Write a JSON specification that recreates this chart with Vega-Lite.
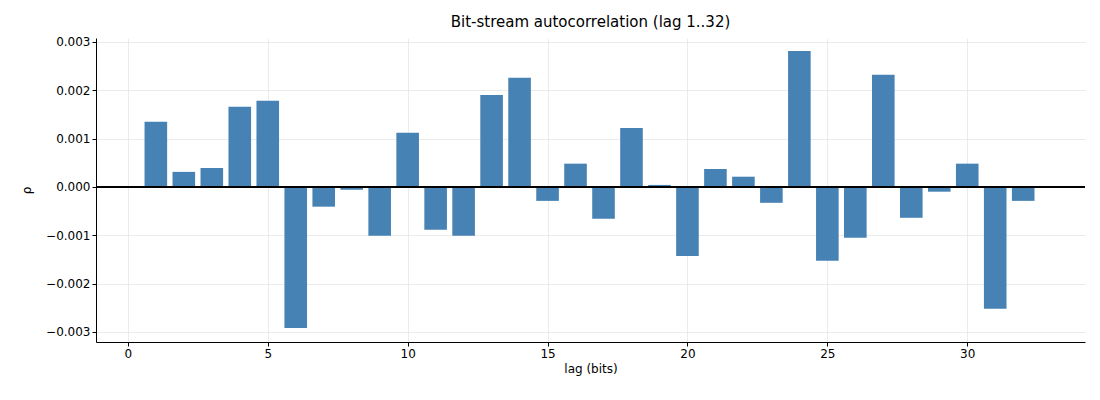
{
  "$schema": "https://vega.github.io/schema/vega-lite/v6.json",
  "autosize": "none",
  "width": 989,
  "height": 304,
  "padding": {"left": 96, "top": 38, "right": 15, "bottom": 58},
  "title": {"text": "Bit-stream autocorrelation (lag 1..32)", "font": "DejaVu Sans", "fontSize": 15, "fontWeight": "normal", "offset": 6},
  "data": {
    "values": [
      {"lag": 1, "rho": 0.001345}, {"lag": 2, "rho": 0.00031}, {"lag": 3, "rho": 0.00039},
      {"lag": 4, "rho": 0.001655}, {"lag": 5, "rho": 0.00178}, {"lag": 6, "rho": -0.00292},
      {"lag": 7, "rho": -0.00041}, {"lag": 8, "rho": -0.00006}, {"lag": 9, "rho": -0.00101},
      {"lag": 10, "rho": 0.00112}, {"lag": 11, "rho": -0.00089}, {"lag": 12, "rho": -0.00101},
      {"lag": 13, "rho": 0.0019}, {"lag": 14, "rho": 0.002255}, {"lag": 15, "rho": -0.00029},
      {"lag": 16, "rho": 0.00048}, {"lag": 17, "rho": -0.00066}, {"lag": 18, "rho": 0.00122},
      {"lag": 19, "rho": 0.00004}, {"lag": 20, "rho": -0.00143}, {"lag": 21, "rho": 0.00037},
      {"lag": 22, "rho": 0.00021}, {"lag": 23, "rho": -0.00033}, {"lag": 24, "rho": 0.00281},
      {"lag": 25, "rho": -0.00153}, {"lag": 26, "rho": -0.001055}, {"lag": 27, "rho": 0.00232},
      {"lag": 28, "rho": -0.00064}, {"lag": 29, "rho": -0.0001}, {"lag": 30, "rho": 0.00048},
      {"lag": 31, "rho": -0.00252}, {"lag": 32, "rho": -0.00029}
    ]
  },
  "layer": [
    {
      "mark": {"type": "bar", "color": "#4682b4", "size": 22.6},
      "encoding": {
        "x": {
          "field": "lag", "type": "quantitative", "title": "lag (bits)",
          "scale": {"domain": [-0.96, 34.03], "nice": false, "zero": false},
          "axis": {"values": [0, 5, 10, 15, 20, 25, 30], "format": "d"}
        },
        "y": {
          "field": "rho", "type": "quantitative", "title": "ρ",
          "scale": {"domain": [-0.00321, 0.00308], "nice": false},
          "axis": {"values": [-0.003, -0.002, -0.001, 0, 0.001, 0.002, 0.003], "format": ".3f"}
        }
      }
    },
    {
      "mark": {"type": "rule", "color": "black", "strokeWidth": 0.8},
      "encoding": {"y": {"datum": 0, "type": "quantitative"}}
    }
  ],
  "config": {
    "view": {"stroke": null},
    "font": "DejaVu Sans",
    "axis": {
      "domainColor": "black", "tickColor": "black", "labelColor": "black", "titleColor": "black",
      "labelFontSize": 12, "titleFontSize": 12, "titleFontWeight": "normal",
      "gridColor": "#e6e6e6", "gridWidth": 0.8, "tickSize": 4
    },
    "axisY": {"titlePadding": 12}
  }
}
